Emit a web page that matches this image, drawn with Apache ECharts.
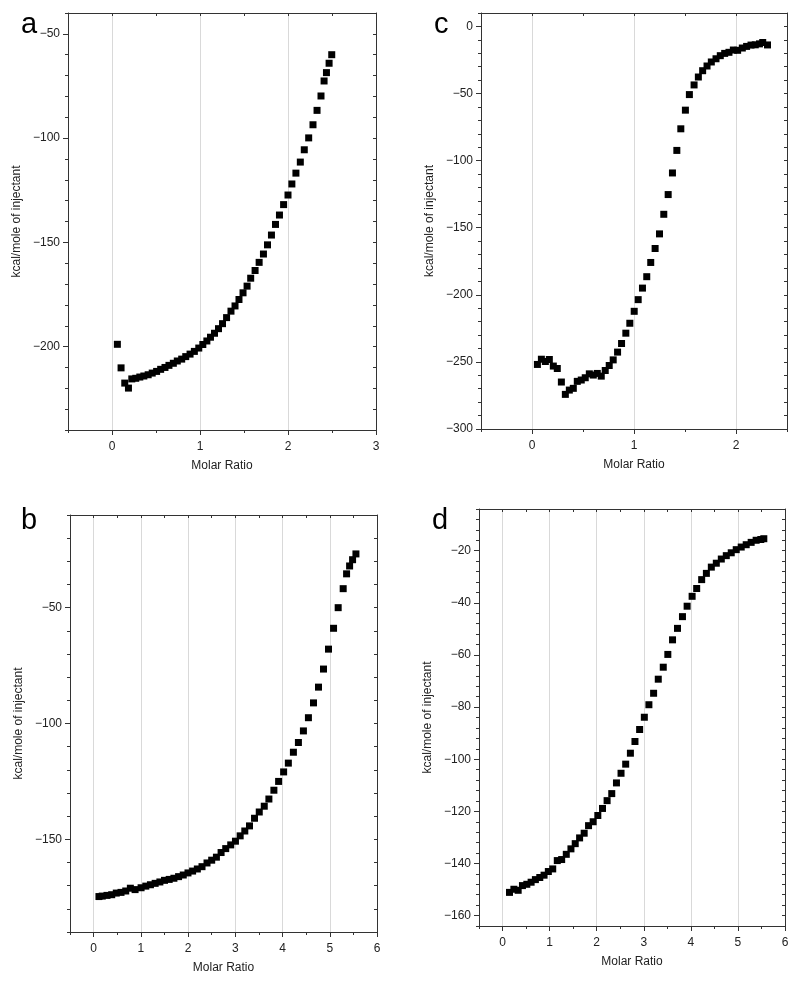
<!DOCTYPE html>
<html><head><meta charset="utf-8">
<script src="https://cdn.jsdelivr.net/npm/echarts@6/dist/echarts.min.js"></script>
<style>html,body{margin:0;padding:0;background:#fff}#c{width:800px;height:983px}</style>
</head><body><div id="c"></div><script>
// ---- data ----
const aX = [0.061,0.103,0.145,0.187,0.225,0.270,0.316,0.362,0.411,0.457,0.507,0.553,0.602,0.647,0.697,0.742,0.792,0.838,0.887,0.936,0.986,1.032,1.078,1.119,1.165,1.210,1.256,1.302,1.352,1.398,1.443,1.489,1.535,1.576,1.626,1.672,1.721,1.767,1.812,1.858,1.903,1.950,2.000,2.044,2.090,2.140,2.185,2.235,2.284,2.330,2.375,2.410,2.437,2.467,2.497];
const aY = [-198.9,-210.2,-217.5,-219.9,-215.5,-215.2,-214.6,-214.1,-213.5,-212.7,-211.9,-210.9,-210.0,-209.0,-208.0,-206.9,-206.0,-204.8,-203.6,-202.3,-200.7,-199.0,-197.3,-195.5,-193.6,-191.4,-189.0,-186.1,-183.0,-180.5,-177.4,-174.2,-171.0,-167.2,-163.5,-159.6,-155.6,-151.2,-146.5,-141.4,-136.9,-131.9,-127.3,-122.0,-116.8,-111.5,-105.6,-99.9,-93.6,-86.7,-79.8,-72.6,-68.6,-64.1,-60.0];

const bX = [0.113,0.183,0.283,0.383,0.480,0.580,0.680,0.778,0.878,1.005,1.105,1.203,1.303,1.403,1.501,1.600,1.700,1.799,1.898,1.998,2.096,2.196,2.295,2.401,2.500,2.600,2.699,2.797,2.903,3.003,3.103,3.201,3.301,3.407,3.507,3.613,3.711,3.817,3.917,4.023,4.123,4.230,4.336,4.442,4.548,4.655,4.761,4.867,4.973,5.080,5.178,5.284,5.356,5.420,5.483,5.554];
const bY = [-174.7,-174.5,-174.2,-173.9,-173.2,-172.9,-172.3,-171.1,-171.7,-170.9,-170.2,-169.6,-169.0,-168.4,-167.7,-167.3,-166.8,-166.1,-165.4,-164.5,-163.7,-162.8,-161.8,-160.2,-159.0,-157.7,-155.7,-154.0,-152.4,-150.8,-148.5,-146.4,-144.2,-140.9,-138.2,-135.7,-132.6,-128.8,-125.0,-120.9,-117.1,-112.4,-108.2,-103.2,-97.5,-91.1,-84.3,-76.5,-67.9,-58.9,-50.0,-41.8,-35.4,-32.0,-29.3,-26.8];

const cX = [0.053,0.092,0.131,0.170,0.209,0.248,0.288,0.327,0.366,0.405,0.444,0.483,0.522,0.562,0.601,0.640,0.679,0.718,0.757,0.796,0.839,0.878,0.920,0.959,1.002,1.041,1.083,1.125,1.164,1.207,1.250,1.292,1.335,1.377,1.420,1.459,1.504,1.543,1.589,1.631,1.673,1.716,1.758,1.804,1.846,1.889,1.931,1.974,2.016,2.062,2.104,2.147,2.189,2.230,2.262,2.309];
const cY = [-251.9,-248.0,-249.7,-248.2,-253.1,-254.9,-265.0,-274.2,-271.0,-269.7,-264.5,-263.5,-261.8,-258.9,-259.8,-258.6,-260.6,-256.4,-252.7,-248.5,-242.7,-236.3,-228.6,-221.2,-212.3,-203.6,-195.0,-186.5,-175.9,-165.5,-154.6,-140.0,-125.3,-109.2,-92.4,-76.3,-62.4,-50.8,-43.6,-37.7,-33.0,-29.5,-26.5,-24.1,-21.8,-20.1,-19.3,-17.6,-17.8,-16.1,-14.9,-13.9,-13.7,-13.0,-12.0,-13.8];

const dX = [0.148,0.241,0.332,0.423,0.516,0.607,0.698,0.791,0.882,0.973,1.066,1.163,1.256,1.354,1.453,1.544,1.637,1.734,1.827,1.925,2.024,2.123,2.221,2.320,2.420,2.517,2.616,2.716,2.813,2.912,3.012,3.109,3.209,3.308,3.414,3.511,3.611,3.716,3.822,3.921,4.027,4.124,4.230,4.330,4.435,4.541,4.647,4.753,4.858,4.964,5.070,5.176,5.281,5.387,5.486,5.550];
const dY = [-151.1,-149.9,-150.3,-148.5,-148.0,-147.2,-146.2,-145.4,-144.5,-143.1,-142.1,-138.9,-138.5,-136.5,-134.4,-132.4,-130.2,-128.4,-125.5,-124.0,-121.6,-118.9,-115.9,-113.2,-109.1,-105.4,-101.9,-97.7,-93.2,-88.6,-83.9,-79.1,-74.7,-69.3,-64.7,-59.8,-54.2,-49.8,-45.3,-41.3,-37.5,-34.5,-31.1,-28.7,-26.3,-24.8,-23.2,-21.9,-20.8,-19.6,-18.6,-17.7,-16.8,-16.0,-15.7,-15.4];

// tick labels
const aXTicks = [0,1,2,3];
const aYTicks = [-200,-150,-100,-50];
const bXTicks = [0,1,2,3,4,5,6];
const bYTicks = [-150,-100,-50];
const cXTicks = [0,1,2];
const cYTicks = [-300,-250,-200,-150,-100,-50,0];
const dXTicks = [0,1,2,3,4,5,6];
const dYTicks = [-160,-140,-120,-100,-80,-60,-40,-20];

const X_NAME = 'Molar Ratio';
const Y_NAME = 'kcal/mole of injectant';

// ---- layout / style ----
const FONT = '"Liberation Sans", Arial, Helvetica, sans-serif';
const AX = '#333';
const panels = [
  {label:'a', x:aX, y:aY, xTicks:aXTicks, yTicks:aYTicks, xr:[-0.5,3,0.5], yr:[-240,-40,10],
   grid:{left:68,top:13,width:308,height:417}, lab:{left:21,top:10}},
  {label:'b', x:bX, y:bY, xTicks:bXTicks, yTicks:bYTicks, xr:[-0.5,6,0.5], yr:[-190,-10,10],
   grid:{left:70,top:515,width:307,height:417}, lab:{left:21,top:506}},
  {label:'c', x:cX, y:cY, xTicks:cXTicks, yTicks:cYTicks, xr:[-0.5,2.5,0.5], yr:[-300,10,10],
   grid:{left:481,top:13,width:306,height:416}, lab:{left:434,top:10}},
  {label:'d', x:dX, y:dY, xTicks:dXTicks, yTicks:dYTicks, xr:[-0.5,6,0.5], yr:[-164,-4,4],
   grid:{left:479,top:509,width:306,height:417}, lab:{left:432,top:506}}
];

const grids=[], xAxes=[], yAxes=[], series=[], titles=[];
const ls = {color:AX, width:1};
const fmt = v => String(v).replace('-', '\u2212');
const labelStyle = {fontSize:12, color:'#222', fontFamily:FONT, formatter:fmt};
const nameStyle = {fontSize:12, color:'#222', fontFamily:FONT};

panels.forEach((p,i)=>{
  grids.push(Object.assign({containLabel:false}, p.grid));
  const base = i*3;
  xAxes.push({gridIndex:i, type:'value', position:'bottom', min:p.xr[0], max:p.xr[1], interval:p.xr[2], z:3,
    axisLine:{show:true,onZero:false,lineStyle:ls}, axisTick:{show:true,inside:false,length:3,lineStyle:ls},
    axisLabel:Object.assign({customValues:p.xTicks, margin:11}, labelStyle),
    splitLine:{show:false}, name:X_NAME, nameLocation:'middle', nameGap:30, nameTextStyle:nameStyle});
  xAxes.push({gridIndex:i, type:'value', position:'bottom', min:p.xr[0], max:p.xr[1], z:1,
    axisLine:{show:false,onZero:false}, axisTick:{show:true,inside:false,length:5,customValues:p.xTicks,lineStyle:ls},
    axisLabel:{show:false}, splitLine:{show:true,lineStyle:{color:'#d9d9d9',width:1}}});
  xAxes.push({gridIndex:i, type:'value', position:'top', min:p.xr[0], max:p.xr[1], interval:p.xr[2], z:3,
    axisLine:{show:true,onZero:false,lineStyle:ls}, axisTick:{show:true,inside:true,length:3,lineStyle:ls},
    axisLabel:{show:false}, splitLine:{show:false}});
  yAxes.push({gridIndex:i, type:'value', position:'left', min:p.yr[0], max:p.yr[1], interval:p.yr[2], z:3,
    axisLine:{show:true,onZero:false,lineStyle:ls}, axisTick:{show:true,inside:false,length:3,lineStyle:ls},
    axisLabel:Object.assign({customValues:p.yTicks, margin:8}, labelStyle),
    splitLine:{show:false}, name:Y_NAME, nameLocation:'middle', nameGap:45, nameTextStyle:nameStyle});
  yAxes.push({gridIndex:i, type:'value', position:'left', min:p.yr[0], max:p.yr[1], z:3,
    axisLine:{show:false,onZero:false}, axisTick:{show:true,inside:false,length:5,customValues:p.yTicks,lineStyle:ls},
    axisLabel:{show:false}, splitLine:{show:false}});
  yAxes.push({gridIndex:i, type:'value', position:'right', min:p.yr[0], max:p.yr[1], interval:p.yr[2], z:3,
    axisLine:{show:true,onZero:false,lineStyle:ls}, axisTick:{show:true,inside:true,length:3,lineStyle:ls},
    axisLabel:{show:false}, splitLine:{show:false}});
  series.push({type:'scatter', xAxisIndex:base, yAxisIndex:base, z:5,
    data:p.x.map((v,k)=>[v,p.y[k]]), symbol:'rect', symbolSize:7,
    itemStyle:{color:'#000', opacity:1}, animation:false, silent:true});
  titles.push({text:p.label, left:p.lab.left, top:p.lab.top, padding:0,
    textStyle:{fontSize:29, fontWeight:'normal', color:'#000', fontFamily:FONT}});
});

const chart = echarts.init(document.getElementById('c'), null, {renderer:'canvas'});
chart.setOption({
  animation:false, backgroundColor:'#fff',
  title:titles, grid:grids, xAxis:xAxes, yAxis:yAxes, series:series
});
</script></body></html>
